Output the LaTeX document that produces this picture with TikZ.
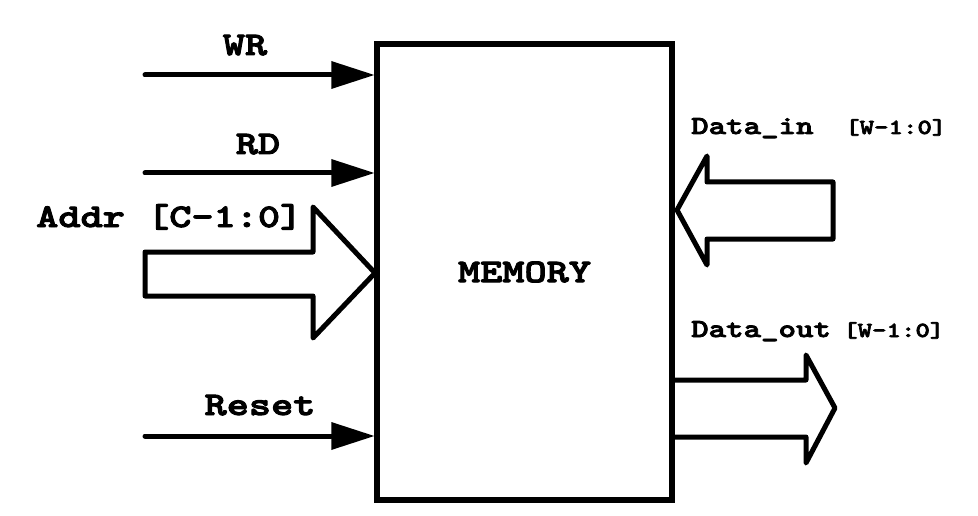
\documentclass[tikz,border=0pt]{standalone}
\usepackage{fontspec}
\newfontfamily\crfont{lmmonolt10-bold.otf}[FakeStretch=1.28,FakeBold=3]
\usetikzlibrary{arrows.meta,positioning,calc}

\tikzset{
    sig/.style={line width=5pt, line cap=round, -{Triangle[length=43pt,width=28pt,line width=0pt]}},
    bus/.style={line width=5pt, line join=round},
    lbl/.style={font=\crfont\fontsize{33}{38}\selectfont, inner sep=0pt, anchor=base},
    buslbl/.style={font=\crfont\fontsize{26}{30}\selectfont, inner sep=0pt, anchor=base west},
    rnglbl/.style={font=\crfont\fontsize{21.5}{25}\selectfont, inner sep=0pt, anchor=base west},
}

\begin{document}
\begin{tikzpicture}[x=1pt, y=-1pt]
    \useasboundingbox (0,0) rectangle (978,516);

    \node[draw, line width=5.5pt, minimum width=295pt, minimum height=456pt, inner sep=0pt,
          font=\crfont\fontsize{33}{38}\selectfont] (mem) at (524.5,272) {MEMORY};

    \coordinate (wr) at (145,75);
    \coordinate (rd) at (145,173);
    \coordinate (rst) at (145,436);

    \node[lbl] (wrl) at (245,55) {WR};
    \node[lbl] (rdl) at (258,154) {RD};
    \node[lbl] (rstl) at (260,415) {Reset};
    \node[lbl, anchor=base west] (addrl) at (36,227) {Addr [C-1:0]};

    \node[buslbl] (dinl) at (691,134) {Data\_in};
    \node[rnglbl] (dinw) at (845,134) {[W-1:0]};
    \node[buslbl] (doutl) at (691,337) {Data\_out};
    \node[rnglbl] (doutw) at (843,337) {[W-1:0]};

    \draw[sig] (wr) -- (wr -| mem.west);
    \draw[sig] (rd) -- (rd -| mem.west);
    \draw[sig] (rst) -- (rst -| mem.west);

    % address bus
    \draw[bus] (145,252) -- (313,252) -- (313,207) -- (375,273) -- (313,338) -- (313,296) -- (145,296) -- cycle;
    % data in bus
    \draw[bus] (833,182) -- (707,182) -- (707,156) -- (677,210) -- (707,265) -- (707,239) -- (833,239) -- cycle;
    % data out bus
    \draw[bus] (672,380) -- (806,380) -- (806,355) -- (835,408) -- (806,463) -- (806,437) -- (672,437);

\end{tikzpicture}
\end{document}
